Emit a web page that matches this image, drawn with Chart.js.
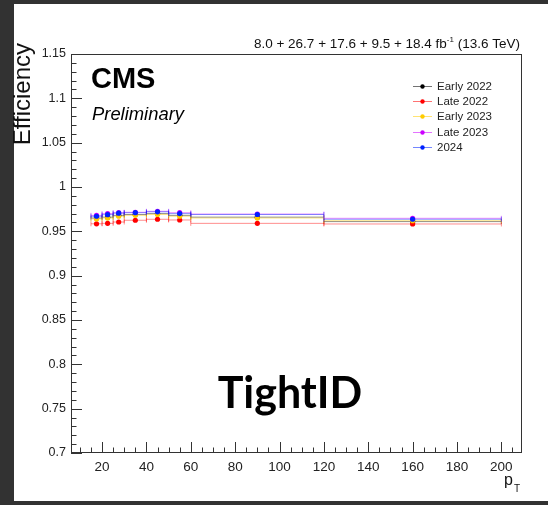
<!DOCTYPE html>
<html>
<head>
<meta charset="utf-8">
<script src="https://cdn.jsdelivr.net/npm/chart.js@4.4.0/dist/chart.umd.min.js"></script>
<style>
  html, body { margin: 0; padding: 0; background: #333; }
  #caixa { width: 548px; height: 505px; }
</style>
</head>
<body>
<div id="caixa"><canvas id="graficoEficiencia"></canvas></div>
<script>
// bins de pT (limites inferior / superior)
const binInicio = [15, 20, 25, 30, 40, 50, 60, 120];
const binFim    = [20, 25, 30, 40, 50, 60, 120, 200];

const rotulos = ["Early 2022", "Late 2022", "Early 2023", "Late 2023", "2024"];
const cores   = ["#000000", "#ff0000", "#ffcc00", "#cc00ff", "#0022ff"];

// eficiencia TightID por periodo
const efEarly2022 = [0.965, 0.966, 0.968, 0.969, 0.970, 0.968, 0.966, 0.961];
const efLate2022  = [0.9585, 0.959, 0.9605, 0.9625, 0.9636, 0.9628, 0.959, 0.9583];
const efEarly2023 = [0.964, 0.965, 0.967, 0.968, 0.969, 0.967, 0.965, 0.962];
const efLate2023  = [0.968, 0.970, 0.971, 0.9715, 0.9726, 0.971, 0.9695, 0.9647];
const ef2024      = [0.967, 0.9688, 0.9705, 0.971, 0.972, 0.970, 0.969, 0.9636];
const series = [efEarly2022, efLate2022, efEarly2023, efLate2023, ef2024];

const ticksX = [20, 40, 60, 80, 100, 120, 140, 160, 180, 200];
const ticksY = [0.7, 0.75, 0.8, 0.85, 0.9, 0.95, 1, 1.05, 1.1, 1.15];

const fonte = "'Liberation Sans', Arial, sans-serif";

function comAlpha(hex, a) {
  const r = parseInt(hex.substr(1,2),16), g = parseInt(hex.substr(3,2),16), b = parseInt(hex.substr(5,2),16);
  return `rgba(${r},${g},${b},${a})`;
}

const moldura = {
  id: 'moldura',
  beforeDraw(chart) {
    const ctx = chart.ctx;
    ctx.save();
    ctx.fillStyle = '#323232';
    ctx.fillRect(0, 0, chart.width, chart.height);
    ctx.fillStyle = '#ffffff';
    ctx.fillRect(14, 4, chart.width - 14, 497);
    ctx.restore();
  },
  beforeDatasetsDraw(chart) {
    // barras de erro horizontais (largura do bin)
    const ctx = chart.ctx;
    const xs = chart.scales.x, ys = chart.scales.y;
    ctx.save();
    ctx.lineWidth = 1;
    series.forEach((s, i) => {
      ctx.strokeStyle = comAlpha(cores[i], 0.45);
      s.forEach((v, j) => {
        const x0 = xs.getPixelForValue(binInicio[j]);
        const x1 = xs.getPixelForValue(binFim[j]);
        const y = ys.getPixelForValue(v);
        ctx.beginPath();
        ctx.moveTo(x0, y); ctx.lineTo(x1, y);
        ctx.moveTo(x0, y - 2.5); ctx.lineTo(x0, y + 2.5);
        ctx.moveTo(x1, y - 2.5); ctx.lineTo(x1, y + 2.5);
        ctx.stroke();
      });
    });
    ctx.restore();
  },
  afterDraw(chart) {
    const ctx = chart.ctx;
    const a = chart.chartArea;
    const xs = chart.scales.x, ys = chart.scales.y;
    ctx.save();

    // caixa do frame
    ctx.strokeStyle = '#333';
    ctx.lineWidth = 1;
    ctx.strokeRect(a.left + 0.5, a.top + 0.5, a.right - a.left - 1, a.bottom - a.top - 1);

    // ticks para dentro
    ctx.beginPath();
    for (let v = 10; v <= 205; v += 5) {
      const x = Math.round(xs.getPixelForValue(v)) + 0.5;
      const len = v % 20 == 0 ? 11 : 5.5;
      ctx.moveTo(x, a.bottom); ctx.lineTo(x, a.bottom - len);
    }
    for (let k = 70; k <= 115; k++) {
      const y = Math.round(ys.getPixelForValue(k / 100)) + 0.5;
      const len = k % 5 == 0 ? 11 : 5.5;
      ctx.moveTo(a.left, y); ctx.lineTo(a.left + len, y);
    }
    ctx.stroke();

    // titulo do eixo y
    ctx.fillStyle = '#111';
    ctx.save();
    ctx.translate(30, 43);
    ctx.rotate(-Math.PI / 2);
    ctx.font = `24px ${fonte}`;
    ctx.textAlign = 'right';
    ctx.textBaseline = 'alphabetic';
    ctx.fillText('Efficiency', 0, 0);
    ctx.restore();

    // titulo do eixo x
    ctx.font = `16px ${fonte}`;
    ctx.textAlign = 'left';
    ctx.fillText('p', 504, 485);
    ctx.font = `10px ${fonte}`;
    ctx.fillText('T', 514, 492);

    // luminosidade
    ctx.font = `13.5px ${fonte}`;
    const parte1 = '8.0 + 26.7 + 17.6 + 9.5 + 18.4 fb';
    const parte3 = ' (13.6 TeV)';
    const w1 = ctx.measureText(parte1).width;
    const w3 = ctx.measureText(parte3).width;
    ctx.font = `8px ${fonte}`;
    const w2 = ctx.measureText('-1').width;
    let x = 520 - w1 - w2 - w3;
    ctx.font = `13.5px ${fonte}`;
    ctx.fillText(parte1, x, 48);
    ctx.font = `8px ${fonte}`;
    ctx.fillText('-1', x + w1, 42);
    ctx.font = `13.5px ${fonte}`;
    ctx.fillText(parte3, x + w1 + w2, 48);

    // CMS Preliminary
    ctx.fillStyle = '#000';
    ctx.font = `bold 29px ${fonte}`;
    ctx.fillText('CMS', 91, 88);
    ctx.font = `italic 18.4px ${fonte}`;
    ctx.fillText('Preliminary', 92, 120);

    // legenda
    ctx.font = `11.5px ${fonte}`;
    ctx.textBaseline = 'middle';
    rotulos.forEach((r, i) => {
      const y = Math.round(86 + i * 15.2) + 0.5;
      ctx.strokeStyle = comAlpha(cores[i], 0.55);
      ctx.beginPath(); ctx.moveTo(413, y); ctx.lineTo(432, y); ctx.stroke();
      ctx.fillStyle = cores[i];
      ctx.beginPath(); ctx.arc(422.5, y, 2.2, 0, 2 * Math.PI); ctx.fill();
      ctx.fillStyle = '#222';
      ctx.fillText(r, 437, y);
    });

    // rotulo grande
    ctx.fillStyle = '#000';
    ctx.font = "bold 43px Lato, 'Open Sans', sans-serif";
    ctx.textAlign = 'center';
    ctx.textBaseline = 'alphabetic';
    ctx.fillText('TightID', 290, 408);

    ctx.restore();
  }
};

new Chart(graficoEficiencia, {
  type: 'scatter',
  data: {
    datasets: rotulos.map((r, i) => ({
      label: r,
      data: binInicio.map((lo, j) => ({ x: (lo + binFim[j]) / 2, y: series[i][j] })),
      backgroundColor: cores[i],
      borderColor: cores[i],
      pointRadius: 2.6,
      pointBorderWidth: 0,
      order: 5 - i
    }))
  },
  options: {
    animation: false,
    responsive: true,
    maintainAspectRatio: false,
    layout: { padding: { top: 54, right: 26, bottom: 0, left: 0 } },
    plugins: { legend: { display: false }, tooltip: { enabled: false } },
    scales: {
      x: {
        type: 'linear',
        min: 6,
        max: 209.3,
        grid: { display: false, drawTicks: false },
        border: { display: false },
        afterBuildTicks: s => { s.ticks = ticksX.map(v => ({ value: v })); },
        afterFit: s => { s.height = 52; },
        ticks: { padding: 6, color: '#222', maxRotation: 0, autoSkip: false, font: { family: fonte, size: 13.5 } }
      },
      y: {
        min: 0.7,
        max: 1.15,
        grid: { display: false, drawTicks: false },
        border: { display: false },
        afterBuildTicks: s => { s.ticks = ticksY.map(v => ({ value: v })); },
        afterFit: s => { s.width = 71; },
        ticks: {
          padding: 5, color: '#222', autoSkip: false, font: { family: fonte, size: 12.5 },
          callback: v => String(Number(v.toFixed(2)))
        }
      }
    }
  },
  plugins: [moldura]
});
</script>
</body>
</html>
